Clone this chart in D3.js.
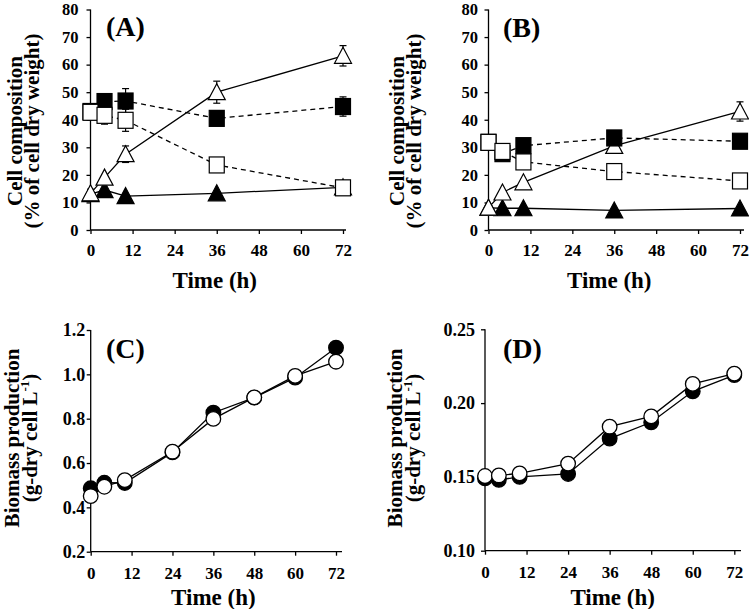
<!DOCTYPE html>
<html>
<head>
<meta charset="utf-8">
<script src="https://cdn.jsdelivr.net/npm/d3@7"></script>
<style>
  html, body { margin: 0; padding: 0; background: #fff; }
  svg { display: block; }
  text { font-family: "Liberation Serif", "Times New Roman", serif; font-weight: bold; fill: #000; }
</style>
</head>
<body>
<svg id="chart" width="749" height="609"></svg>
<script>
// ---------------- DATA ----------------
const timesAB = [0, 4, 10, 36, 72];
const timesCD = [0, 4, 10, 24, 36, 48, 60, 72];
const xTickLabels = [0, 12, 24, 36, 48, 60, 72];

// Panel A (% of cell dry weight)
const A_filledSquare = [43.0, 46.6, 46.8, 40.5, 44.8];
const A_filledSquareErr = [0, 1.5, 4.5, 1.0, 3.5];
const A_openSquare = [42.7, 41.6, 39.8, 23.6, 15.3];
const A_openSquareErr = [0, 3.2, 4.0, 1.0, 1.5];
const A_openTriangle = [13.3, 19.0, 27.5, 50.0, 63.2];
const A_openTriangleErr = [1.5, 1.0, 3.0, 4.0, 3.7];
const A_filledTriangle = [13.0, 14.5, 12.3, 13.3, 15.5];
const A_filledTriangleErr = [0, 0, 0, 0, 0];

// Panel B (% of cell dry weight)
const B_filledSquare = [31.8, 27.7, 30.6, 33.4, 32.2];
const B_filledSquareErr = [0, 0, 1.0, 1.0, 2.0];
const B_openSquare = [31.8, 28.5, 24.7, 21.2, 17.8];
const B_openSquareErr = [0, 0, 0, 0, 0];
const B_openTriangle = [8.1, 13.6, 17.3, 30.5, 43.0];
const B_openTriangleErr = [0, 0, 0, 1.0, 3.5];
const B_filledTriangle = [8.0, 7.9, 7.9, 7.1, 7.8];
const B_filledTriangleErr = [0, 0, 0, 0, 0];

// Panel C (g-dry cell per L)
const C_filledCircle = [0.486, 0.511, 0.510, 0.648, 0.827, 0.895, 0.985, 1.120];
const C_openCircle = [0.451, 0.493, 0.523, 0.651, 0.799, 0.896, 0.993, 1.057];

// Panel D (g-dry cell per L)
const D_filledCircle = [0.149, 0.148, 0.150, 0.152, 0.176, 0.187, 0.208, 0.219];
const D_openCircle = [0.1506, 0.151, 0.1524, 0.159, 0.184, 0.191, 0.213, 0.220];

const yTicksAB = [0, 10, 20, 30, 40, 50, 60, 70, 80];
const yTicksC = [0.2, 0.4, 0.6, 0.8, 1.0, 1.2];
const yTicksD = [0.10, 0.15, 0.20, 0.25];

// ---------------- DRAW ----------------
const svg = d3.select("#chart");

function panel(cfg) {
  const g = svg.append("g");
  const x = d3.scaleLinear().domain([0, 72]).range([cfg.x0, cfg.x1]);
  const y = d3.scaleLinear().domain(cfg.yDomain).range([cfg.yb, cfg.yt]);

  // axes
  const yAxis = d3.axisLeft(y).tickValues(cfg.yTicks).tickFormat(cfg.yFmt)
    .tickSize(4).tickSizeOuter(0).tickPadding(cfg.yPad);
  const ga = g.append("g").attr("transform", `translate(${cfg.x0},0)`).call(yAxis);
  const xAxis = d3.axisBottom(x).tickValues(xTickLabels).tickFormat(d3.format("d"))
    .tickSize(4).tickSizeOuter(0).tickPadding(cfg.xPad);
  const gx = g.append("g").attr("transform", `translate(0,${cfg.yb})`).call(xAxis);
  [[ga, cfg.yFont], [gx, 17]].forEach(([a, fs]) => {
    a.select(".domain").remove();
    a.selectAll("line").attr("stroke", "#000").attr("stroke-width", 1.3);
    a.selectAll("text").style("font-size", fs + "px").style("font-family", '"Liberation Serif", serif').style("font-weight", "bold");
  });
  g.append("line").attr("x1", cfg.x0).attr("x2", cfg.x0).attr("y1", cfg.yb).attr("y2", cfg.yt)
    .attr("stroke", "#000").attr("stroke-width", 1.3);
  g.append("line").attr("x1", cfg.x0).attr("x2", cfg.xEnd).attr("y1", cfg.yb).attr("y2", cfg.yb)
    .attr("stroke", "#000").attr("stroke-width", 1.3);

  // titles
  g.append("text").attr("x", (cfg.x0 + cfg.x1) / 2 + cfg.xTitleDx).attr("y", cfg.xTitleY)
    .attr("text-anchor", "middle").style("font-size", "23px").text("Time (h)");
  cfg.yTitle(g);
  g.append("text").attr("x", cfg.labelX).attr("y", cfg.labelY)
    .style("font-size", "28px").text(cfg.label);

  // lines
  const line = d3.line().x(d => x(d[0])).y(d => y(d[1]));
  cfg.series.forEach(s => {
    g.append("path").datum(s.times.map((t, i) => [t, s.values[i]]))
      .attr("d", line).attr("fill", "none").attr("stroke", "#000").attr("stroke-width", 1.3)
      .attr("stroke-dasharray", s.dashed ? "5,4" : null);
  });

  // markers (with error bars)
  cfg.series.forEach(s => {
    const pts = s.times.map((t, i) => ({ t, v: s.values[i], e: s.err ? s.err[i] : 0 }));
    pts.filter(p => p.e > 0).forEach(p => {
      const cx = x(p.t);
      g.append("line").attr("x1", cx).attr("x2", cx).attr("y1", y(p.v - p.e)).attr("y2", y(p.v + p.e))
        .attr("stroke", "#000").attr("stroke-width", 1.2);
      [p.v - p.e, p.v + p.e].forEach(v => {
        g.append("line").attr("x1", cx - 3.5).attr("x2", cx + 3.5).attr("y1", y(v)).attr("y2", y(v))
          .attr("stroke", "#000").attr("stroke-width", 1.2);
      });
    });
    const fill = s.filled ? "#000" : "#fff";
    pts.forEach(p => {
      const cx = x(p.t), cy = y(p.v);
      if (s.shape === "square") {
        g.append("rect").attr("x", cx - 7.5).attr("y", cy - 8).attr("width", 15).attr("height", 16)
          .attr("fill", fill).attr("stroke", "#000").attr("stroke-width", 1.2);
      } else if (s.shape === "triangle") {
        g.append("path").attr("d", `M${cx},${cy - 8.5}L${cx + 8.5},${cy + 7.5}L${cx - 8.5},${cy + 7.5}Z`)
          .attr("fill", fill).attr("stroke", "#000").attr("stroke-width", 1.2);
      } else {
        g.append("circle").attr("cx", cx).attr("cy", cy).attr("r", 7.3)
          .attr("fill", fill).attr("stroke", "#000").attr("stroke-width", 1.3);
      }
    });
  });
}

function yTitle2(bx1, bx2, cy, l1, l2html) {
  return g => {
    g.append("text").attr("transform", `translate(${bx1},${cy}) rotate(-90)`)
      .attr("text-anchor", "middle").style("font-size", "21px").text(l1);
    const t = g.append("text").attr("transform", `translate(${bx2},${cy}) rotate(-90)`)
      .attr("text-anchor", "middle").style("font-size", "21px");
    l2html(t);
  };
}

const compLine2 = t => t.text("(% of cell dry weight)");
const bioLine2 = t => {
  t.append("tspan").text("(g-dry cell L");
  t.append("tspan").attr("dy", -8).style("font-size", "13px").text("-1");
  t.append("tspan").attr("dy", 8).text(")");
};

panel({
  x0: 90.5, x1: 343, xEnd: 346, yb: 230, yt: 9.5, yDomain: [0, 80], yTicks: yTicksAB,
  yFmt: d3.format("d"), yFont: 16.5, yPad: 8, xPad: 10, xTitleY: 288, xTitleDx: -2,
  label: "(A)", labelX: 106, labelY: 36,
  yTitle: yTitle2(22, 39, 131, "Cell composition", compLine2),
  series: [
    { times: timesAB, values: A_filledTriangle, err: A_filledTriangleErr, shape: "triangle", filled: true, dashed: false },
    { times: timesAB, values: A_openTriangle, err: A_openTriangleErr, shape: "triangle", filled: false, dashed: false },
    { times: timesAB, values: A_filledSquare, err: A_filledSquareErr, shape: "square", filled: true, dashed: true },
    { times: timesAB, values: A_openSquare, err: A_openSquareErr, shape: "square", filled: false, dashed: true }
  ]
});

panel({
  x0: 488.5, x1: 740, xEnd: 744, yb: 230, yt: 9.5, yDomain: [0, 80], yTicks: yTicksAB,
  yFmt: d3.format("d"), yFont: 16.5, yPad: 6.5, xPad: 10, xTitleY: 288, xTitleDx: -5,
  label: "(B)", labelX: 503, labelY: 37,
  yTitle: yTitle2(404, 421, 131, "Cell composition", compLine2),
  series: [
    { times: timesAB, values: B_filledTriangle, err: B_filledTriangleErr, shape: "triangle", filled: true, dashed: false },
    { times: timesAB, values: B_openTriangle, err: B_openTriangleErr, shape: "triangle", filled: false, dashed: false },
    { times: timesAB, values: B_filledSquare, err: B_filledSquareErr, shape: "square", filled: true, dashed: true },
    { times: timesAB, values: B_openSquare, err: B_openSquareErr, shape: "square", filled: false, dashed: true }
  ]
});

panel({
  x0: 90.7, x1: 336, xEnd: 342, yb: 551.7, yt: 330, yDomain: [0.2, 1.2], yTicks: yTicksC,
  yFmt: d3.format(".1f"), yFont: 18, yPad: 1.5, xPad: 11, xTitleY: 605, xTitleDx: 0,
  label: "(C)", labelX: 106, labelY: 358,
  yTitle: yTitle2(19, 37, 438, "Biomass production", bioLine2),
  series: [
    { times: timesCD, values: C_filledCircle, shape: "circle", filled: true, dashed: false },
    { times: timesCD, values: C_openCircle, shape: "circle", filled: false, dashed: false }
  ]
});

panel({
  x0: 485, x1: 734.3, xEnd: 741, yb: 550.7, yt: 329.3, yDomain: [0.10, 0.25], yTicks: yTicksD,
  yFmt: d3.format(".2f"), yFont: 18, yPad: 6, xPad: 11, xTitleY: 605, xTitleDx: 3,
  label: "(D)", labelX: 503, labelY: 358,
  yTitle: yTitle2(402, 420, 438, "Biomass production", bioLine2),
  series: [
    { times: timesCD, values: D_filledCircle, shape: "circle", filled: true, dashed: false },
    { times: timesCD, values: D_openCircle, shape: "circle", filled: false, dashed: false }
  ]
});
</script>
</body>
</html>
